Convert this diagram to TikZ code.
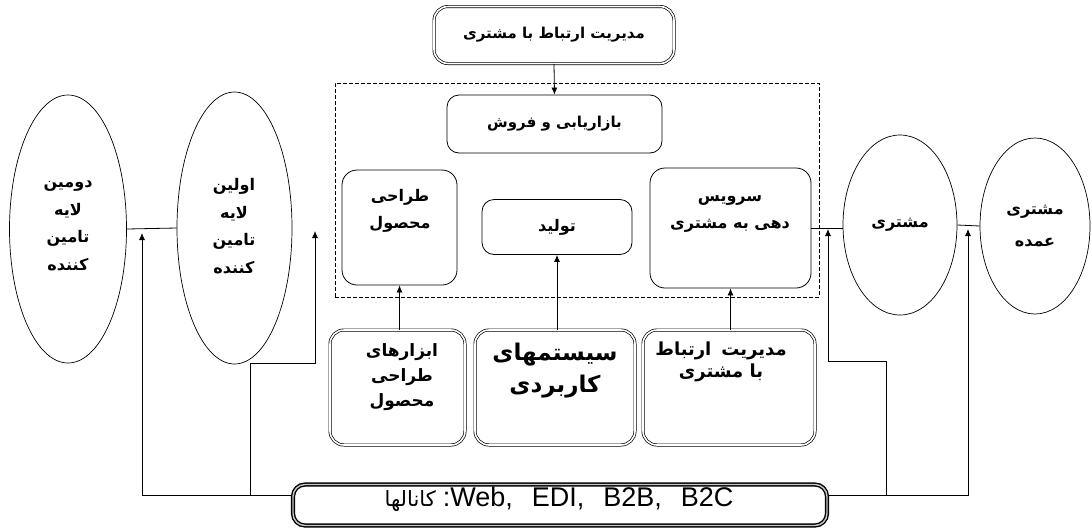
\documentclass[tikz,border=0pt]{standalone}
\usepackage{fontspec}
\usepackage{graphicx}
\setmainfont{Liberation Sans}
\newfontfamily\arabicfont[Script=Arabic]{DejaVu Sans}
\TeXXeTstate=1
\usetikzlibrary{arrows.meta,shapes.geometric}
\newcommand\prs[1]{\beginR #1\endR}
\tikzset{
  box/.style={draw, line width=0.8pt, rounded corners=12pt, inner sep=0pt},
  dbox/.style={draw, line width=0.7pt, double, double distance=1.6pt, rounded corners=14pt, inner sep=0pt},
  chanbox/.style={draw, line width=1.4pt, double=gray!45, double distance=1.4pt, rounded corners=12pt, inner sep=0pt},
  oval/.style={draw, line width=0.7pt, ellipse, inner sep=0pt},
  txt/.style={font=\arabicfont\bfseries\fontsize{16}{27.5}\selectfont, align=center, inner sep=0pt},
  conn/.style={line width=0.8pt},
  arr/.style={line width=0.8pt, -{Latex[length=7pt,width=6pt]}},
}
\begin{document}
\begin{tikzpicture}[x=1pt,y=-1pt]
\useasboundingbox (0,0) rectangle (1092,528);
% top CRM box
\node[dbox, minimum width=240, minimum height=57, txt, font=\arabicfont\bfseries\fontsize{15}{20}\selectfont] (crm) at (554,35) {\prs{مدیریت ارتباط با مشتری}};
% dashed frame
\node[draw, dashed, line width=0.7pt, dash pattern=on 4pt off 2pt, minimum width=484, minimum height=214, inner sep=0pt] (core) at (577,190) {};
\node[box, minimum width=215, minimum height=58, txt, font=\arabicfont\bfseries\fontsize{15}{20}\selectfont] (mkt) at (554.5,124) {\prs{بازاریابی و فروش}};
\node[box, rounded corners=15pt, minimum width=115, minimum height=115] (design) at (399.5,227.5) {};
\node[txt] (designt) at (400,211) {\prs{طراحی}\\\prs{محصول}};
\node[box, minimum width=150, minimum height=55, txt] (prod) at (557,227) {\prs{تولید}};
\node[box, rounded corners=15pt, minimum width=161, minimum height=120] (svc) at (730.5,228) {};
\node[txt] (svct) at (730,214) {\prs{سرویس}\\\prs{دهی به مشتری}};
% ellipses
\node[oval, minimum width=117, minimum height=268] (tier2) at (68,229) {};
\node[txt] (tier2t) at (68,226) {\prs{دومین}\\\prs{لایه}\\\prs{تامین}\\\prs{کننده}};
\node[oval, minimum width=115, minimum height=272] (tier1) at (234.5,228) {};
\node[txt] (tier1t) at (234,226) {\prs{اولین}\\\prs{لایه}\\\prs{تامین}\\\prs{کننده}};
\node[oval, minimum width=114, minimum height=180, txt] (cust) at (900,225) {\prs{مشتری}};
\node[oval, minimum width=110, minimum height=176, txt, font=\arabicfont\bfseries\fontsize{16}{32}\selectfont] (big) at (1035,226) {\prs{مشتری}\\\prs{عمده}};
% bottom row
\node[dbox, minimum width=135, minimum height=115] (tools) at (397.5,387.5) {};
\node[txt, font=\arabicfont\bfseries\fontsize{17}{25}\selectfont] (toolst) at (402,377) {\prs{ابزارهای}\\\prs{طراحی}\\\prs{محصول}};
\node[dbox, minimum width=160, minimum height=115] (apps) at (555,387.5) {};
\node[txt, font=\arabicfont\bfseries\fontsize{23}{32}\selectfont] (appst) at (555,371) {\prs{سیستمهای}\\\prs{کاربردی}};
\node[dbox, minimum width=172, minimum height=115] (crm2) at (729,387.5) {};
\node[txt, font=\arabicfont\bfseries\fontsize{18}{22}\selectfont] (crm2t) at (721,362) {\prs{مدیریت\hspace{10pt}ارتباط}\\\prs{با مشتری}};
% channel box
\node[chanbox, minimum width=534, minimum height=41] (chan) at (560,505) {};
\node[inner sep=0pt] (chant) at (559,499) {{\arabicfont\fontsize{21}{24}\selectfont\prs{کانالها}}\hspace{7pt}{\fontsize{27}{29}\selectfont:Web,\hspace{19pt}EDI,\hspace{19pt}B2B,\hspace{19pt}B2C}};
% coordinates
\coordinate (yl) at (0,495);
\coordinate (a1) at (142,233);
\coordinate (a2) at (315,231);
\coordinate (j1) at (250,495);
\coordinate (a3) at (828,229);
\coordinate (a4) at (968,229);
\coordinate (j2) at (886,495);
% connectors
\draw[arr] (crm.south) -- (mkt.north);
\draw[conn] (tier2.east) -- (tier1.west);
\draw[conn] (svc.east) -- (svc.east -| cust.west);
\draw[conn] (cust.east) -- (big.west);
\draw[arr] (design.south |- tools.north) -- (design.south);
\draw[arr] (prod.south |- apps.north) -- (prod.south);
\draw[arr] (crm2.north -| svc.south) -- (svc.south);
\draw[arr] (chan.west |- yl) -| (a1);
\draw[arr] (j1) |- (315,363) -| (a2);
\draw[arr] (chan.east |- yl) -| (a4);
\draw[arr] (j2) |- (828,361) -| (a3);
\end{tikzpicture}
\end{document}
